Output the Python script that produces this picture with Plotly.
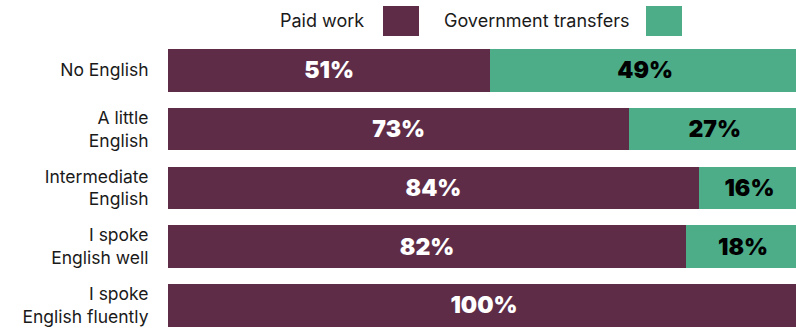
import plotly.graph_objects as go

# Self-rated English at arrival vs. main source of income (shares, %)
categories = [
    "No English",
    "A little<br>English",
    "Intermediate<br>English",
    "I spoke<br>English well",
    "I spoke<br>English fluently",
]
paid_work = [51, 73, 84, 82, 100]
gov_transfers = [49, 27, 16, 18, 0]

series_names = ["Paid work", "Government transfers"]
colors = ["#5E2C47", "#4DAD89"]
label_colors = ["#FFFFFF", "#000000"]

W, H = 796, 330
ML, MR, MT, MB = 168, 0, 41, 0
plot_w = W - ML - MR
plot_h = H - MT - MB


def px_x(px):
    return (px - ML) / plot_w


def px_y(py):
    return 1 - (py - MT) / plot_h


fig = go.Figure()
for name, vals, col, lc in zip(series_names, [paid_work, gov_transfers], colors, label_colors):
    fig.add_trace(go.Bar(
        y=categories,
        x=vals,
        name=name,
        orientation="h",
        marker=dict(color=col, line=dict(width=0)),
        text=[f"{v}%" if v > 0 else "" for v in vals],
        textposition="inside",
        insidetextanchor="middle",
        textangle=0,
        insidetextfont=dict(family="Inter", size=23, color=lc, weight=900),
        hoverinfo="skip",
        showlegend=False,
    ))

# Legend: label text followed by a colour swatch
legend_items = [
    ("Paid work", colors[0], 366, 383),
    ("Government transfers", colors[1], 631, 646),
]
for text, col, text_right, sw_left in legend_items:
    fig.add_annotation(
        x=px_x(text_right), y=px_y(20), xref="paper", yref="paper",
        text=text, showarrow=False, xanchor="right", yanchor="middle",
        font=dict(family="Inter", size=18, color="#1A1A1A"),
    )
    fig.add_shape(
        type="rect", xref="paper", yref="paper",
        x0=px_x(sw_left), x1=px_x(sw_left + 36),
        y0=px_y(36), y1=px_y(6),
        fillcolor=col, line=dict(width=0),
    )

fig.update_layout(
    width=W, height=H,
    margin=dict(l=ML, r=MR, t=MT, b=MB),
    barmode="stack",
    bargap=0.273,
    plot_bgcolor="white",
    paper_bgcolor="white",
    font=dict(family="Inter", size=17.5, color="#1A1A1A"),
    uniformtext=dict(mode=False),
)
fig.update_xaxes(range=[0, plot_w / 6.32], visible=False, fixedrange=True)
fig.update_yaxes(
    range=[4.42, -0.5],
    showgrid=False, zeroline=False, showline=False,
    ticks="outside", ticklen=15, tickcolor="rgba(0,0,0,0)",
    tickfont=dict(family="Inter", size=17.5, color="#1A1A1A"),
    fixedrange=True,
)

fig.write_html("out.html")
